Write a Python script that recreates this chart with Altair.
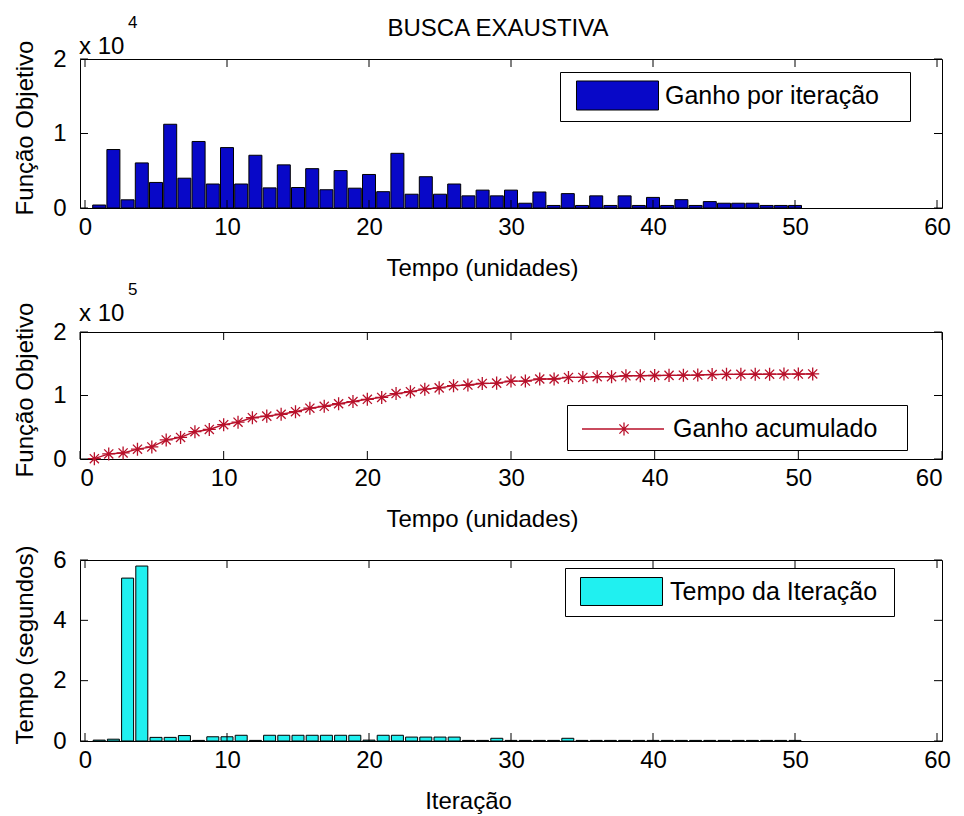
import altair as alt
import pandas as pd

# ---------------- data ----------------
iter_bar = list(range(1, 51))
ganho_por_iteracao = [400, 7850, 1100, 6050, 3430, 11240, 4000, 8930, 3220, 8110,
                      3220, 7080, 2700, 5790, 2750, 5280, 2450, 5020, 2660, 4500,
                      2190, 7340, 1850, 4200, 1850, 3220, 1630, 2400, 1630, 2400,
                      640, 2150, 340, 1930, 340, 1630, 340, 1630, 340, 1420,
                      340, 1120, 340, 860, 640, 640, 640, 340, 340, 340]

iter_line = list(range(1, 52))
ganho_acumulado = [500, 8000, 9500, 15500, 19000, 30000, 34000, 43000, 46500, 54000,
                   58000, 65000, 67500, 70500, 74500, 80000, 83000, 87000, 90500, 94000,
                   97000, 103000, 106000, 110000, 112000, 115500, 116500, 119000, 119500, 122700,
                   122700, 126000, 126000, 128500, 128500, 129600, 129600, 131000, 131200, 131500,
                   131700, 132000, 132200, 133000, 133300, 133400, 133500, 133600, 133700, 133800,
                   133900]

tempo_iteracao = [0.03, 0.06, 5.40, 5.80, 0.12, 0.12, 0.18, 0.02, 0.14, 0.14,
                  0.19, 0.02, 0.19, 0.19, 0.19, 0.19, 0.19, 0.19, 0.19, 0.03,
                  0.19, 0.19, 0.13, 0.13, 0.13, 0.13, 0.02, 0.02, 0.09, 0.02,
                  0.02, 0.02, 0.02, 0.09, 0.02, 0.02, 0.02, 0.02, 0.02, 0.02,
                  0.02, 0.02, 0.02, 0.02, 0.02, 0.02, 0.02, 0.02, 0.02, 0.02]

x_tick_values = [0, 10, 20, 30, 40, 50, 60]
y1_tick_values = [0, 10000, 20000]
y2_tick_values = [0, 100000, 200000]
y3_tick_values = [0, 2, 4, 6]

series_names = ["Ganho por iteração", "Ganho acumulado", "Tempo da Iteração"]
main_title = ["BUSCA EXAUSTIVA"]
x_titles = ["Tempo (unidades)", "Tempo (unidades)", "Iteração"]
y_titles = ["Função Objetivo", "Função Objetivo", "Tempo (segundos)"]
exp_base = ["x 10"]
exp_powers = ["4", "5"]

# ---------------- layout / style ----------------
W = 862
H1, H2, H3 = 149, 127, 181
GAP1, GAP2 = 124, 101
FONT = "Liberation Sans"
FS = 24
LFS = 25
TICK = 8
BLUE = "#0808C8"
CYAN = "#20F0F0"
RED = "#B8102A"

STAR = "M-1,0L1,0M0,-1L0,1M-0.7,-0.7L0.7,0.7M-0.7,0.7L0.7,-0.7"


def swatch(x0, x1, hh, right_extent):
    return (f"M{x0},{-hh}L{x1},{-hh}L{x1},{hh}L{x0},{hh}Z"
            f"M{right_extent},0L{right_extent},0")


SW1 = swatch(-0.467, 5.0, 0.967, 21.1)
SW3 = swatch(-0.533, 4.933, 0.933, 19.65)
SW2 = ("M-0.6,0L4.867,0M1.767,0L2.633,0M2.2,-0.433L2.2,0.433"
       "M1.894,-0.306L2.506,0.306M1.894,0.306L2.506,-0.306M20.35,0L20.35,0")

df1 = pd.DataFrame({"x": iter_bar, "v": ganho_por_iteracao, "s": series_names[0]})
df2 = pd.DataFrame({"x": iter_line, "v": ganho_acumulado, "s": series_names[1]})
df3 = pd.DataFrame({"x": iter_bar, "v": tempo_iteracao, "s": series_names[2]})

xscale = alt.Scale(domain=[0, 60], nice=False, zero=False)


def x_axis(title, title_x):
    return alt.Axis(values=x_tick_values, title=title, ticks=False, tickSize=0,
                    domain=False, grid=False, format="d",
                    labelFont=FONT, labelFontSize=FS, labelColor="black",
                    labelBaseline="alphabetic", labelPadding=26, labelOverlap=False,
                    titleFont=FONT, titleFontSize=FS, titleFontWeight="normal",
                    titleColor="black", titleBaseline="alphabetic",
                    titleX=title_x, titleY=67)


def y_axis(title, values, expr, h):
    return alt.Axis(values=values, title=title, ticks=False, tickSize=0,
                    domain=False, grid=False, labelExpr=expr,
                    labelFont=FONT, labelFontSize=FS, labelColor="black",
                    labelPadding=14, labelOverlap=False,
                    titleFont=FONT, titleFontSize=FS, titleFontWeight="normal",
                    titleColor="black", titleAngle=270, titleBaseline="middle",
                    titleAlign="center", titleX=-55, titleY=h / 2 - 6)


def legend(x, y, sym, filled=True):
    kw = dict(orient="none", legendX=x, legendY=y, title=None, padding=8,
              strokeColor="black", fillColor="white", cornerRadius=0,
              symbolType=sym, symbolSize=900,
              symbolStrokeColor="black" if filled else RED,
              symbolStrokeWidth=1 if filled else 1.3,
              labelFont=FONT, labelFontSize=LFS, labelColor="black",
              labelOffset=66, labelLimit=0)
    if not filled:
        kw["symbolFillColor"] = "transparent"
    return alt.Legend(**kw)


def tick_rules(xax, yax, yscale, yvals, h):
    tx = pd.DataFrame({"t": x_tick_values})
    ty = pd.DataFrame({"t": yvals})
    top = alt.Chart(tx).mark_rule(color="black", strokeWidth=1).encode(
        x=alt.X("t:Q", scale=xscale, axis=xax), y=alt.value(0), y2=alt.value(TICK))
    bot = alt.Chart(tx).mark_rule(color="black", strokeWidth=1).encode(
        x=alt.X("t:Q", scale=xscale, axis=xax), y=alt.value(h), y2=alt.value(h - TICK))
    left = alt.Chart(ty).mark_rule(color="black", strokeWidth=1).encode(
        y=alt.Y("t:Q", scale=yscale, axis=yax), x=alt.value(0), x2=alt.value(TICK))
    right = alt.Chart(ty).mark_rule(color="black", strokeWidth=1).encode(
        y=alt.Y("t:Q", scale=yscale, axis=yax), x=alt.value(W - TICK), x2=alt.value(W))
    return [top, bot, left, right]


def exponent(power, base_y):
    b = alt.Chart(pd.DataFrame({"t": exp_base})).mark_text(
        align="left", baseline="alphabetic", font=FONT, fontSize=FS, color="black"
    ).encode(text="t:N", x=alt.value(-1), y=alt.value(base_y))
    p = alt.Chart(pd.DataFrame({"t": [power]})).mark_text(
        align="left", baseline="alphabetic", font=FONT, fontSize=17, color="black"
    ).encode(text="t:N", x=alt.value(48), y=alt.value(base_y - 26))
    return [b, p]


# ---------------- panel 1 ----------------
y1 = alt.Scale(domain=[0, 20000], nice=False, zero=True)
xa1 = x_axis(x_titles[0], 402)
ya1 = y_axis(y_titles[0], y1_tick_values, "format(datum.value / 10000, 'd')", H1)
bars1 = alt.Chart(df1).mark_bar(size=13, stroke="black", strokeWidth=1).encode(
    x=alt.X("x:Q", scale=xscale, axis=xa1),
    y=alt.Y("v:Q", scale=y1, axis=ya1),
    color=alt.Color("s:N", scale=alt.Scale(domain=[series_names[0]], range=[BLUE]),
                    legend=legend(480, 13, SW1)),
)
title1 = alt.Chart(pd.DataFrame({"t": main_title})).mark_text(
    align="center", baseline="alphabetic", font=FONT, fontSize=FS, color="black"
).encode(text="t:N", x=alt.value(418), y=alt.value(-23))
p1 = alt.layer(bars1, *tick_rules(xa1, ya1, y1, y1_tick_values, H1),
               *exponent(exp_powers[0], -5), title1).properties(width=W, height=H1)

# ---------------- panel 2 ----------------
y2 = alt.Scale(domain=[0, 200000], nice=False, zero=True)
xa2 = x_axis(x_titles[1], 402)
ya2 = y_axis(y_titles[1], y2_tick_values, "format(datum.value / 100000, 'd')", H2)
line2 = alt.Chart(df2).mark_line(strokeWidth=1.4).encode(
    x=alt.X("x:Q", scale=xscale, axis=xa2),
    y=alt.Y("v:Q", scale=y2, axis=ya2),
    color=alt.Color("s:N", scale=alt.Scale(domain=[series_names[1]], range=[RED]),
                    legend=legend(487, 73, SW2, filled=False)),
)
pts2 = alt.Chart(df2).mark_point(shape=STAR, filled=False, size=170, strokeWidth=1.3, color=RED,
                                 opacity=1).encode(
    x=alt.X("x:Q", scale=xscale, axis=xa2), y=alt.Y("v:Q", scale=y2, axis=ya2))
p2 = alt.layer(line2, pts2, *tick_rules(xa2, ya2, y2, y2_tick_values, H2),
               *exponent(exp_powers[1], -11)).properties(width=W, height=H2)

# ---------------- panel 3 ----------------
y3 = alt.Scale(domain=[0, 6], nice=False, zero=True)
xa3 = x_axis(x_titles[2], 388)
ya3 = y_axis(y_titles[2], y3_tick_values, "datum.label", H3)
bars3 = alt.Chart(df3).mark_bar(size=12, stroke="black", strokeWidth=1).encode(
    x=alt.X("x:Q", scale=xscale, axis=xa3),
    y=alt.Y("v:Q", scale=y3, axis=ya3),
    color=alt.Color("s:N", scale=alt.Scale(domain=[series_names[2]], range=[CYAN]),
                    legend=legend(485, 8, SW3)),
)
p3 = alt.layer(bars3, *tick_rules(xa3, ya3, y3, y3_tick_values, H3)).properties(width=W, height=H3)


def spacer(h):
    return alt.Chart(pd.DataFrame({"v": [0]})).mark_point(opacity=0).properties(
        width=W, height=h, view=alt.ViewBackground(stroke="transparent"))


chart = alt.vconcat(p1, spacer(GAP1), p2, spacer(GAP2), p3, spacing=0, bounds="flush").resolve_scale(
    x="independent", y="independent", color="independent"
).properties(
    padding={"left": 4, "top": 5, "right": 0, "bottom": 0},
    background="white",
).configure(font=FONT).configure_view(stroke="black", strokeWidth=1)

chart.save("out.html", embed_options={"renderer": "svg", "actions": False})
